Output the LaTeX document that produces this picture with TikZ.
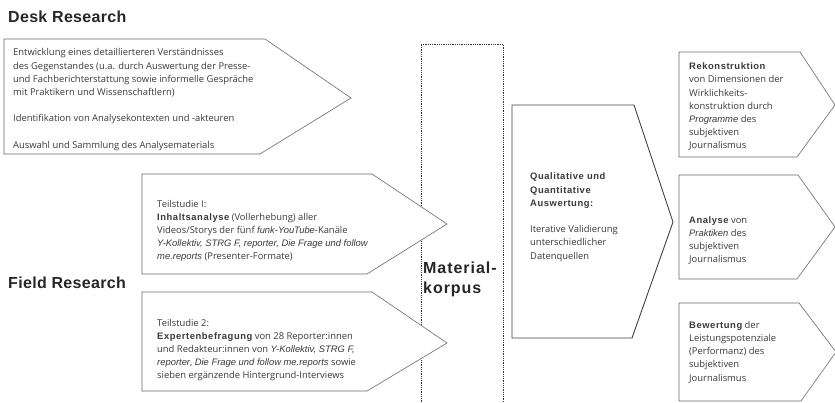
\documentclass[tikz,border=0pt]{standalone}
\usepackage{fontspec}
\setmainfont{Open Sans}
\newfontfamily\hdfont[LetterSpace=2]{Liberation Sans}
\newfontfamily\kbfont[LetterSpace=6]{Liberation Sans}
\newfontfamily\kifont{Liberation Sans}
\newcommand\kb[1]{{\kbfont\bfseries #1}}
\newcommand\ki[1]{{\kifont\itshape #1}}
\definecolor{txt}{HTML}{3A3A3A}
\definecolor{edge}{HTML}{6A6A6A}
\tikzset{
  body/.style={anchor=base west, align=left, inner sep=0pt, text=txt,
    font=\fontsize{9.4}{13.2}\selectfont},
  heading/.style={anchor=west, inner sep=0pt, text=black!85,
    font=\hdfont\bfseries\fontsize{16}{18}\selectfont},
  arrowbox/.style={draw=edge, line width=0.6pt, fill=white},
  bigbox/.style={draw=black!75, line width=0.9pt, fill=white},
  corpus/.style={draw=black!80, line width=0.7pt, dash pattern=on 0.9pt off 0.9pt}
}
\begin{document}
\begin{tikzpicture}[x=1pt,y=-1pt]
\useasboundingbox (0,0) rectangle (835,403);
% headings
\node[heading] (desk) at (8,17) {Desk Research};
\node[heading] (field) at (8,283) {Field Research};
% desk research box (text node anchored at its last line)
\draw[arrowbox] (4,39) -- (265,39) -- (351,98) -- (260,154) -- (4,154) -- cycle;
\node[body] (desktext) at (13,148.4) {Entwicklung eines detaillierteren Verständnisses\\
des Gegenstandes (u.a. durch Auswertung der Presse-\\
und Fachberichterstattung sowie informelle Gespräche\\
mit Praktikern und Wissenschaftlern)\\[13.2pt]
Identifikation von Analysekontexten und -akteuren\\[13.2pt]
Auswahl und Sammlung des Analysematerials};
% corpus column
\draw[corpus] (421,404) -- (421,44) -- (503,44) -- (503,404);
% field research boxes
\draw[arrowbox] (142,174) -- (372,174) -- (447,224) -- (367,274) -- (142,274) -- cycle;
\node[body] (study1) at (157,260) {Teilstudie I:\\
\kb{Inhaltsanalyse} (Vollerhebung) aller\\
Videos/Storys der fünf \ki{funk-YouTube}-Kanäle\\
\ki{Y-Kollektiv, STRG F, reporter, Die Frage und follow}\\
\ki{me.reports} (Presenter-Formate)};
\draw[arrowbox] (142,292) -- (372,292) -- (447,343) -- (367,391) -- (142,391) -- cycle;
\node[body] (study2) at (157,378.8) {Teilstudie 2:\\
\kb{Expertenbefragung} von 28 Reporter:innen\\
und Redakteur:innen von \ki{Y-Kollektiv, STRG F,}\\
\ki{reporter}, \ki{Die Frage und follow me.reports} sowie\\
sieben ergänzende Hintergrund-Interviews};
% corpus label
\node[anchor=base west, inner sep=0pt, align=left, text=black!85,
  font=\kbfont\bfseries\fontsize{16}{20}\selectfont] (corpuslabel) at (423,294) {Material-\\korpus};
% evaluation box
\draw[bigbox] (512,105) -- (634,105) -- (673,222) -- (632,338) -- (512,338) -- cycle;
\node[body] (evaltext) at (530,259.2) {\kb{Qualitative und}\\
\kb{Quantitative}\\
\kb{Auswertung:}\\[13.2pt]
Iterative Validierung\\
unterschiedlicher\\
Datenquellen};
% result boxes
\draw[arrowbox] (679,52) -- (800,52) -- (835,105) -- (797,157) -- (679,157) -- cycle;
\node[body] (res1) at (689,149) {\kb{Rekonstruktion}\\
von Dimensionen der\\
Wirklichkeits-\\
konstruktion durch\\
\ki{Programme} des\\
subjektiven\\
Journalismus};
\draw[arrowbox] (679,175) -- (798,175) -- (835,227) -- (797,279) -- (679,279) -- cycle;
\node[body] (res2) at (689,263) {\kb{Analyse} von\\
\ki{Praktiken} des\\
subjektiven\\
Journalismus};
\draw[arrowbox] (679,303) -- (799,303) -- (836,352) -- (801,401) -- (679,401) -- cycle;
\node[body] (res3) at (689,381) {\kb{Bewertung} der\\
Leistungspotenziale\\
(Performanz) des\\
subjektiven\\
Journalismus};
\end{tikzpicture}
\end{document}
